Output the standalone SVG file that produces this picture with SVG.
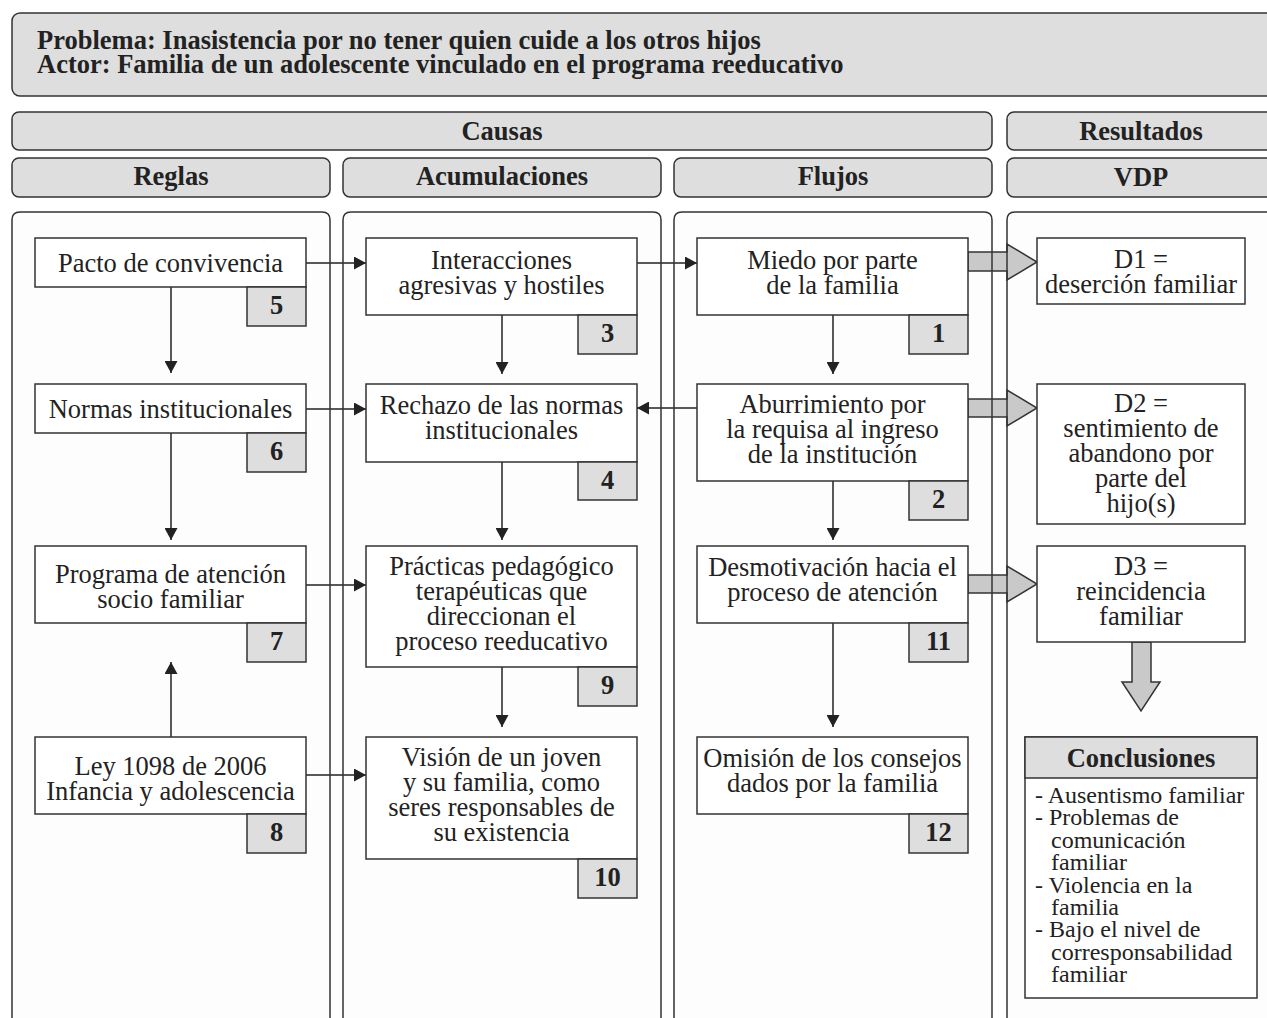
<svg xmlns="http://www.w3.org/2000/svg" width="1267" height="1018" viewBox="0 0 1267 1018">
<defs>
<style>
.t{font-family:"Liberation Serif","Times New Roman",serif;font-size:26.5px;fill:#222;text-anchor:middle}
.b{font-weight:bold}
.l{font-family:"Liberation Serif","Times New Roman",serif;font-size:24px;fill:#222}
.box{fill:#fff;stroke:#333;stroke-width:1.5}
.gray{fill:#dedede;stroke:#333;stroke-width:1.5}
.pf{fill:#fdfdfd;stroke:none}
.pb{fill:none;stroke:#333;stroke-width:1.5}
.ln{fill:none;stroke:#222;stroke-width:1.5;marker-end:url(#ah)}
.fat{fill:#c9c9c9;stroke:#333;stroke-width:1.5;stroke-linejoin:miter}
</style>
<marker id="ah" markerUnits="userSpaceOnUse" markerWidth="13" markerHeight="13" refX="12" refY="6.5" orient="auto">
<path d="M0,0 L12,6.5 L0,13 z" fill="#222"/>
</marker>
</defs>
<rect x="0" y="0" width="1267" height="1018" fill="#fff"/>

<g id="title">
<rect x="12" y="13" width="1270" height="83" rx="8" class="gray"/>
<text class="t b" x="37" y="49" style="text-anchor:start">Problema: Inasistencia por no tener quien cuide a los otros hijos</text>
<text class="t b" x="37" y="73" style="text-anchor:start">Actor: Familia de un adolescente vinculado en el programa reeducativo</text>
</g>

<g id="headers">
<rect x="12" y="112" width="980" height="38" rx="7" class="gray"/>
<text class="t b" x="502" y="140">Causas</text>
<rect x="1007" y="112" width="280" height="38" rx="7" class="gray"/>
<text class="t b" x="1141" y="140">Resultados</text>
<rect x="12" y="158" width="318" height="39" rx="7" class="gray"/>
<text class="t b" x="171" y="185">Reglas</text>
<rect x="343" y="158" width="318" height="39" rx="7" class="gray"/>
<text class="t b" x="502" y="185">Acumulaciones</text>
<rect x="674" y="158" width="318" height="39" rx="7" class="gray"/>
<text class="t b" x="833" y="185">Flujos</text>
<rect x="1007" y="158" width="280" height="39" rx="7" class="gray"/>
<text class="t b" x="1141" y="186">VDP</text>
</g>

<g id="panel-fills">
<path class="pf" d="M12,1030 V220 Q12,212 20,212 H322 Q330,212 330,220 V1030 Z"/>
<path class="pf" d="M343,1030 V220 Q343,212 351,212 H653 Q661,212 661,220 V1030 Z"/>
<path class="pf" d="M674,1030 V220 Q674,212 682,212 H984 Q992,212 992,220 V1030 Z"/>
<path class="pf" d="M1007,1030 V220 Q1007,212 1015,212 H1290 V1030 Z"/>
</g>

<g id="connectors">
<line class="ln" x1="306" y1="263" x2="366" y2="263"/>
<line class="ln" x1="637" y1="263" x2="697" y2="263"/>
<line class="ln" x1="171" y1="287" x2="171" y2="373"/>
<line class="ln" x1="171" y1="433" x2="171" y2="540"/>
<line class="ln" x1="171" y1="737" x2="171" y2="662"/>
<line class="ln" x1="306" y1="409" x2="366" y2="409"/>
<line class="ln" x1="697" y1="408" x2="637" y2="408"/>
<line class="ln" x1="306" y1="585" x2="366" y2="585"/>
<line class="ln" x1="306" y1="775" x2="366" y2="775"/>
<line class="ln" x1="502" y1="315" x2="502" y2="374"/>
<line class="ln" x1="502" y1="462" x2="502" y2="540"/>
<line class="ln" x1="502" y1="667" x2="502" y2="727"/>
<line class="ln" x1="833" y1="315" x2="833" y2="374"/>
<line class="ln" x1="833" y1="481" x2="833" y2="540"/>
<line class="ln" x1="833" y1="623" x2="833" y2="727"/>
<polygon class="fat" points="968,252 1007,252 1007,244 1037,262 1007,280 1007,271 968,271"/>
<polygon class="fat" points="968,399 1007,399 1007,390 1037,408 1007,426 1007,417 968,417"/>
<polygon class="fat" points="968,575 1007,575 1007,566 1037,584 1007,602 1007,593 968,593"/>
<polygon class="fat" points="1132,642 1151,642 1151,682 1160,682 1141,711 1122,682 1132,682"/>
</g>

<g id="panel-borders">
<path class="pb" d="M12,1030 V220 Q12,212 20,212 H322 Q330,212 330,220 V1030"/>
<path class="pb" d="M343,1030 V220 Q343,212 351,212 H653 Q661,212 661,220 V1030"/>
<path class="pb" d="M674,1030 V220 Q674,212 682,212 H984 Q992,212 992,220 V1030"/>
<path class="pb" d="M1007,1030 V220 Q1007,212 1015,212 H1290"/>
</g>

<g id="n5">
<rect x="35" y="238" width="271" height="49" class="box"/>
<text class="t" x="170.5" y="272">Pacto de convivencia</text>
<rect x="247" y="287" width="59" height="39" class="gray"/>
<text class="t b" x="276.5" y="314">5</text>
</g>
<g id="n6">
<rect x="35" y="384" width="271" height="49" class="box"/>
<text class="t" x="170.5" y="418">Normas institucionales</text>
<rect x="247" y="433" width="59" height="39" class="gray"/>
<text class="t b" x="276.5" y="460">6</text>
</g>
<g id="n7">
<rect x="35" y="546" width="271" height="77" class="box"/>
<text class="t" x="170.5" y="583">Programa de atención</text>
<text class="t" x="170.5" y="608">socio familiar</text>
<rect x="247" y="623" width="59" height="39" class="gray"/>
<text class="t b" x="276.5" y="650">7</text>
</g>
<g id="n8">
<rect x="35" y="737" width="271" height="77" class="box"/>
<text class="t" x="170.5" y="775">Ley 1098 de 2006</text>
<text class="t" x="170.5" y="800">Infancia y adolescencia</text>
<rect x="247" y="814" width="59" height="39" class="gray"/>
<text class="t b" x="276.5" y="841">8</text>
</g>

<g id="n3">
<rect x="366" y="238" width="271" height="77" class="box"/>
<text class="t" x="501.5" y="269">Interacciones</text>
<text class="t" x="501.5" y="294">agresivas y hostiles</text>
<rect x="578" y="315" width="59" height="39" class="gray"/>
<text class="t b" x="607.5" y="342">3</text>
</g>
<g id="n4">
<rect x="366" y="384" width="271" height="78" class="box"/>
<text class="t" x="501.5" y="414">Rechazo de las normas</text>
<text class="t" x="501.5" y="439">institucionales</text>
<rect x="578" y="462" width="59" height="38" class="gray"/>
<text class="t b" x="607.5" y="489">4</text>
</g>
<g id="n9">
<rect x="366" y="546" width="271" height="121" class="box"/>
<text class="t" x="501.5" y="575">Prácticas pedagógico</text>
<text class="t" x="501.5" y="600">terapéuticas que</text>
<text class="t" x="501.5" y="625">direccionan el</text>
<text class="t" x="501.5" y="650">proceso reeducativo</text>
<rect x="578" y="667" width="59" height="39" class="gray"/>
<text class="t b" x="607.5" y="694">9</text>
</g>
<g id="n10">
<rect x="366" y="737" width="271" height="122" class="box"/>
<text class="t" x="501.5" y="766">Visión de un joven</text>
<text class="t" x="501.5" y="791">y su familia, como</text>
<text class="t" x="501.5" y="816">seres responsables de</text>
<text class="t" x="501.5" y="841">su existencia</text>
<rect x="578" y="859" width="59" height="39" class="gray"/>
<text class="t b" x="607.5" y="886">10</text>
</g>

<g id="n1">
<rect x="697" y="238" width="271" height="77" class="box"/>
<text class="t" x="832.5" y="269">Miedo por parte</text>
<text class="t" x="832.5" y="294">de la familia</text>
<rect x="909" y="315" width="59" height="39" class="gray"/>
<text class="t b" x="938.5" y="342">1</text>
</g>
<g id="n2">
<rect x="697" y="384" width="271" height="97" class="box"/>
<text class="t" x="832.5" y="413">Aburrimiento por</text>
<text class="t" x="832.5" y="438">la requisa al ingreso</text>
<text class="t" x="832.5" y="463">de la institución</text>
<rect x="909" y="481" width="59" height="39" class="gray"/>
<text class="t b" x="938.5" y="508">2</text>
</g>
<g id="n11">
<rect x="697" y="546" width="271" height="77" class="box"/>
<text class="t" x="832.5" y="576">Desmotivación hacia el</text>
<text class="t" x="832.5" y="601">proceso de atención</text>
<rect x="909" y="623" width="59" height="39" class="gray"/>
<text class="t b" x="938.5" y="650">11</text>
</g>
<g id="n12">
<rect x="697" y="737" width="271" height="77" class="box"/>
<text class="t" x="832.5" y="767">Omisión de los consejos</text>
<text class="t" x="832.5" y="792">dados por la familia</text>
<rect x="909" y="814" width="59" height="39" class="gray"/>
<text class="t b" x="938.5" y="841">12</text>
</g>

<g id="d1">
<rect x="1037" y="238" width="208" height="66" class="box"/>
<text class="t" x="1141" y="268">D1 =</text>
<text class="t" x="1141" y="293">deserción familiar</text>
</g>
<g id="d2">
<rect x="1037" y="384" width="208" height="140" class="box"/>
<text class="t" x="1141" y="412">D2 =</text>
<text class="t" x="1141" y="437">sentimiento de</text>
<text class="t" x="1141" y="462">abandono por</text>
<text class="t" x="1141" y="487">parte del</text>
<text class="t" x="1141" y="512">hijo(s)</text>
</g>
<g id="d3">
<rect x="1037" y="546" width="208" height="96" class="box"/>
<text class="t" x="1141" y="575">D3 =</text>
<text class="t" x="1141" y="600">reincidencia</text>
<text class="t" x="1141" y="625">familiar</text>
</g>
<g id="conclusiones">
<rect x="1025" y="737" width="232" height="261" class="box"/>
<rect x="1025" y="737" width="232" height="41" class="gray"/>
<text class="t b" x="1141" y="767">Conclusiones</text>
<text class="l" x="1035" y="803">- Ausentismo familiar</text>
<text class="l" x="1035" y="825">- Problemas de</text>
<text class="l" x="1051" y="848">comunicación</text>
<text class="l" x="1051" y="870">familiar</text>
<text class="l" x="1035" y="893">- Violencia en la</text>
<text class="l" x="1051" y="915">familia</text>
<text class="l" x="1035" y="937">- Bajo el nivel de</text>
<text class="l" x="1051" y="960">corresponsabilidad</text>
<text class="l" x="1051" y="982">familiar</text>
</g>
</svg>
